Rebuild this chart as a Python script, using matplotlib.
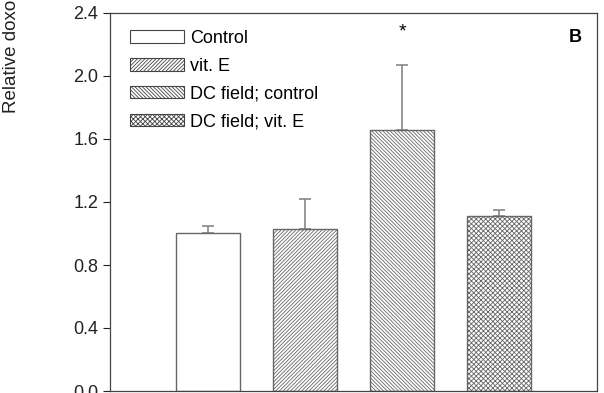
import matplotlib
matplotlib.use("Agg")
import matplotlib.pyplot as plt
from matplotlib.patches import Patch

groups = ["Control", "vit. E", "DC field; control", "DC field; vit. E"]
values = [1.00, 1.03, 1.66, 1.11]
err_up = [0.05, 0.19, 0.41, 0.04]
hatches = ["", "/////////", "\\\\\\\\\\\\\\\\\\", "xxxxxxx"]

plt.rcParams["font.family"] = ["Liberation Sans", "DejaVu Sans"]
plt.rcParams["hatch.linewidth"] = 0.6

fig = plt.figure(figsize=(6.04, 3.93), dpi=100)
ax = fig.add_axes([110 / 604, 2 / 393, 487 / 604, 378 / 393])

x = list(range(len(values)))
for i in x:
    ax.bar(i, values[i], width=0.66, color="white", edgecolor="#666666",
           hatch=hatches[i], linewidth=1.0, zorder=2)
ax.errorbar(x, values, yerr=[[0] * 4, err_up], fmt="none", ecolor="#888888",
            elinewidth=1.2, capsize=4, capthick=1.2, zorder=1)

ax.text(2, 2.28, "*", ha="center", va="center", fontsize=14)
ax.text(0.955, 0.935, "B", transform=ax.transAxes, ha="center", va="center",
        fontsize=13, fontweight="bold")

ax.set_xlim(-1.01, 4.01)
ax.set_ylim(0, 2.4)
ax.set_yticks([0, 0.4, 0.8, 1.2, 1.6, 2.0, 2.4])
ax.set_yticklabels(["0.0", "0.4", "0.8", "1.2", "1.6", "2.0", "2.4"], fontsize=13)
ax.set_xticks([])
ax.tick_params(axis="y", direction="out", length=5, width=0.8, colors="#222222")
for s in ax.spines.values():
    s.set_linewidth(0.9)
    s.set_color("#444444")

handles = [Patch(facecolor="white", edgecolor="#444444", hatch=h, linewidth=0.8)
           for h in hatches]
ax.legend(handles, groups, loc="upper left", bbox_to_anchor=(0.027, 0.975),
          frameon=False, fontsize=13, handlelength=2.95, handleheight=0.7,
          handletextpad=0.35, labelspacing=0.6, borderaxespad=0)

fig.text(12 / 604, 1 - 113 / 393, "Relative doxorubicin uptake", rotation=90,
         ha="center", va="bottom", fontsize=13.5, color="#222222")

fig.savefig("out.png", dpi=100)
